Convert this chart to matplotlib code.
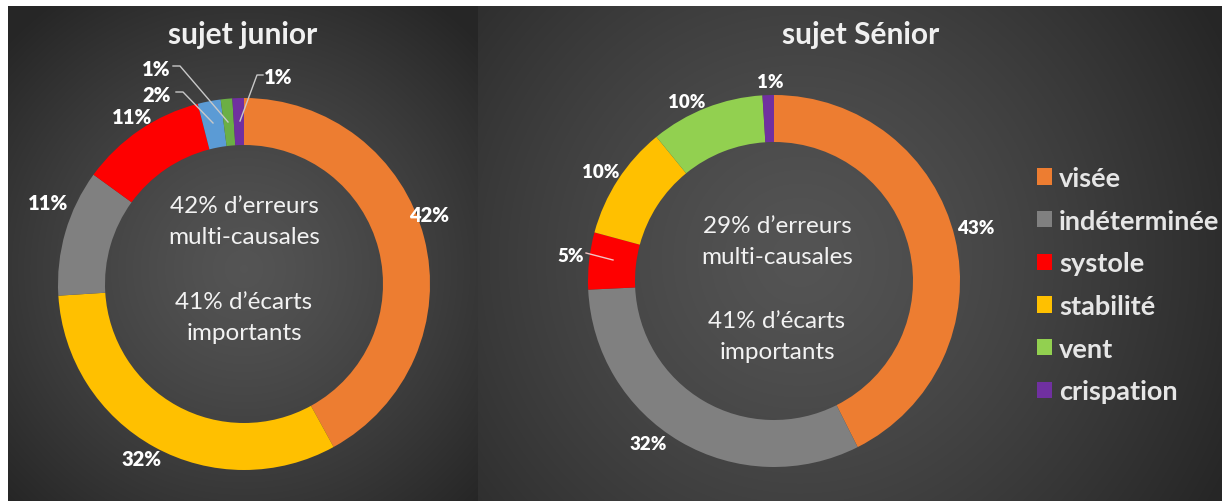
import numpy as np
import matplotlib
matplotlib.use('Agg')
import matplotlib.pyplot as plt
from matplotlib.patches import Patch

# ---------------- data ----------------
junior_labels = ['visée', 'stabilité', 'indéterminée', 'systole', 'autre', 'vent', 'crispation']
junior_values = [42, 32, 11, 11, 2, 1, 1]
junior_colors = ['#ED7D31', '#FFC000', '#808080', '#FE0000', '#5B9BD5', '#6BAF45', '#7030A0']

senior_labels = ['visée', 'indéterminée', 'systole', 'stabilité', 'vent', 'crispation']
senior_values = [43, 32, 5, 10, 10, 1]
senior_colors = ['#ED7D31', '#808080', '#FE0000', '#FFC000', '#92D050', '#7030A0']

legend_labels = ['visée', 'indéterminée', 'systole', 'stabilité', 'vent', 'crispation']
legend_colors = ['#ED7D31', '#808080', '#FE0000', '#FFC000', '#92D050', '#7030A0']

titles = ['sujet junior', 'sujet Sénior']
junior_center = ['42% d’erreurs\nmulti-causales', '41% d’écarts\nimportants']
senior_center = ['29% d’erreurs\nmulti-causales', '41% d’écarts\nimportants']

# ---------------- layout (pixel coords, y from top) ----------------
W, H = 1222, 502
def Y(y):
    return H - y

FONT = ['Lato', 'DejaVu Sans']
plt.rcParams['font.family'] = FONT

fig = plt.figure(figsize=(W / 100, H / 100), dpi=100, facecolor='white')
ax = fig.add_axes([0, 0, 1, 1])
ax.set_facecolor('white')

def panel_bg(x0, x1, y0, y1, cx, cy, rmax, inner=0.33, outer=0.15):
    xs = np.linspace(x0, x1, 400)
    ys = np.linspace(Y(y1), Y(y0), 400)
    XX, YY = np.meshgrid(xs, ys)
    d = np.sqrt((XX - cx) ** 2 + (YY - Y(cy)) ** 2) / rmax
    v = inner + (outer - inner) * np.clip(d, 0, 1) ** 1.3
    img = np.dstack([v, v, v])
    ax.imshow(img, extent=(x0, x1, Y(y1), Y(y0)), origin='lower', zorder=0,
              interpolation='bilinear', aspect='auto')

panel_bg(8, 478, 7, 502, 244, 270, 330)
panel_bg(478, 1222, 7, 502, 800, 260, 480)

# donuts
left_c = (244, Y(285))
right_c = (774, Y(282))
R = 186
WIDTH = 47

ax.pie(junior_values, colors=junior_colors, startangle=90, counterclock=False,
       center=left_c, radius=R, frame=True,
       wedgeprops=dict(width=WIDTH, linewidth=0))
ax.pie(senior_values, colors=senior_colors, startangle=90, counterclock=False,
       center=right_c, radius=R, frame=True,
       wedgeprops=dict(width=WIDTH, linewidth=0))

# percentage labels
junior_label_pos = [(429, 216), (141, 460), (48, 203), (132, 118), (157, 95), (156, 69), (278, 77)]
senior_label_pos = [(976, 228), (648, 445), (571, 257), (601, 173), (687, 102), (770, 83)]

for v, (x, y) in zip(junior_values, junior_label_pos):
    ax.text(x, Y(y), f'{v}%', ha='center', va='center', fontsize=14.5,
            fontweight='heavy', color='white', zorder=5)
for v, (x, y) in zip(senior_values, senior_label_pos):
    ax.text(x, Y(y), f'{v}%', ha='center', va='center', fontsize=13.5,
            fontweight='heavy', color='white', zorder=5)

# leader lines
leaders = [
    ([173, 180, 228], [67, 67, 123], '#c8c8c8'),
    ([176, 183, 213], [93, 93, 124], '#c8c8c8'),
    ([263, 257, 240], [76, 76, 122], '#c8c8c8'),
    ([586, 613], [254, 261], '#f2c4c4'),
]
for xs, ys, c in leaders:
    ax.plot(xs, [Y(y) for y in ys], color=c, lw=1.0, zorder=4)

# titles
ax.text(243, Y(35), titles[0], ha='center', va='center', fontsize=21.5,
        fontweight='bold', color='#f0f0f0', zorder=5)
ax.text(861, Y(35), titles[1], ha='center', va='center', fontsize=21.5,
        fontweight='bold', color='#f0f0f0', zorder=5)

# center texts
for cx, lines, (y1, y2) in [(244, junior_center, (222, 318)),
                            (777, senior_center, (242, 337))]:
    ax.text(cx, Y(y1), lines[0], ha='center', va='center', fontsize=17.5,
            color='#f2f2f2', linespacing=1.6, zorder=5)
    ax.text(cx, Y(y2), lines[1], ha='center', va='center', fontsize=17.5,
            color='#f2f2f2', linespacing=1.6, zorder=5)

# legend
handles = [Patch(facecolor=c, edgecolor='none') for c in legend_colors]
leg = ax.legend(handles, legend_labels, loc='upper left',
                bbox_to_anchor=(1037 / W, Y(167) / H), bbox_transform=fig.transFigure,
                frameon=False, prop=dict(family=FONT, weight='bold', size=19.5),
                handlelength=0.56, handleheight=0.56, handletextpad=0.26,
                labelspacing=0.69, borderpad=0, borderaxespad=0)
for t in leg.get_texts():
    t.set_color('#e6e6e6')

ax.set_xlim(0, W)
ax.set_ylim(0, H)
ax.set_aspect('auto')
ax.axis('off')

fig.savefig('out.png', dpi=100, facecolor='white')
